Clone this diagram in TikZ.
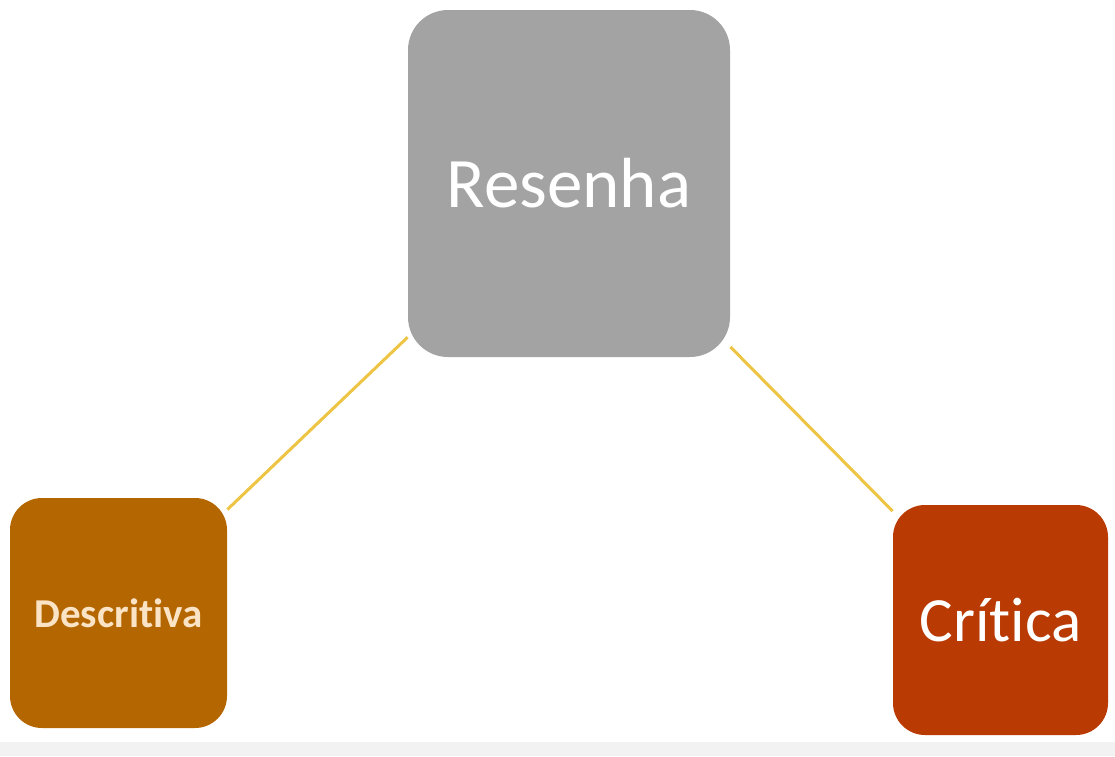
\documentclass[tikz,border=0pt]{standalone}
\usepackage{fontspec}
\setmainfont{Carlito}[Ligatures=NoCommon]
\definecolor{resgray}{HTML}{A3A3A3}
\definecolor{desbrown}{HTML}{B46700}
\definecolor{critred}{HTML}{B93A02}
\definecolor{linkyellow}{HTML}{EDC443}
\definecolor{descream}{HTML}{FBE4C6}
\begin{document}
\begin{tikzpicture}[x=0.5pt,y=-0.5pt]
        		\tikzstyle{box}=[rectangle,rounded corners=20pt,inner sep=0pt,text=white]
        		\tikzstyle{link}=[draw, line width=1.5pt, linkyellow]
        		\useasboundingbox (0,0) rectangle (1115,756);
        		\fill[black!5] (0,742) rectangle (1115,756);
       			\begin{scope}
			        \node [box,fill=resgray,minimum width=161pt,minimum height=173.5pt,font=\fontsize{35.5}{40}\selectfont] (resenha) at (569,183.5) {Resenha};
			        \node [box,fill=desbrown,minimum width=108.5pt,minimum height=115pt,rounded corners=16pt,text=descream,font=\fontsize{20.5}{24}\selectfont\bfseries] (descritiva) at (118.5,613) {Descritiva};
			        \node [box,fill=critred,minimum width=107.5pt,minimum height=115pt,rounded corners=16pt,font=\fontsize{31.5}{36}\selectfont] (critica) at (1000.5,620) {Crítica};
			        \path[link] (resenha) -- (descritiva);
			        \path[link] (resenha) -- (critica);
        		\end{scope}
\end{tikzpicture}
\end{document}
